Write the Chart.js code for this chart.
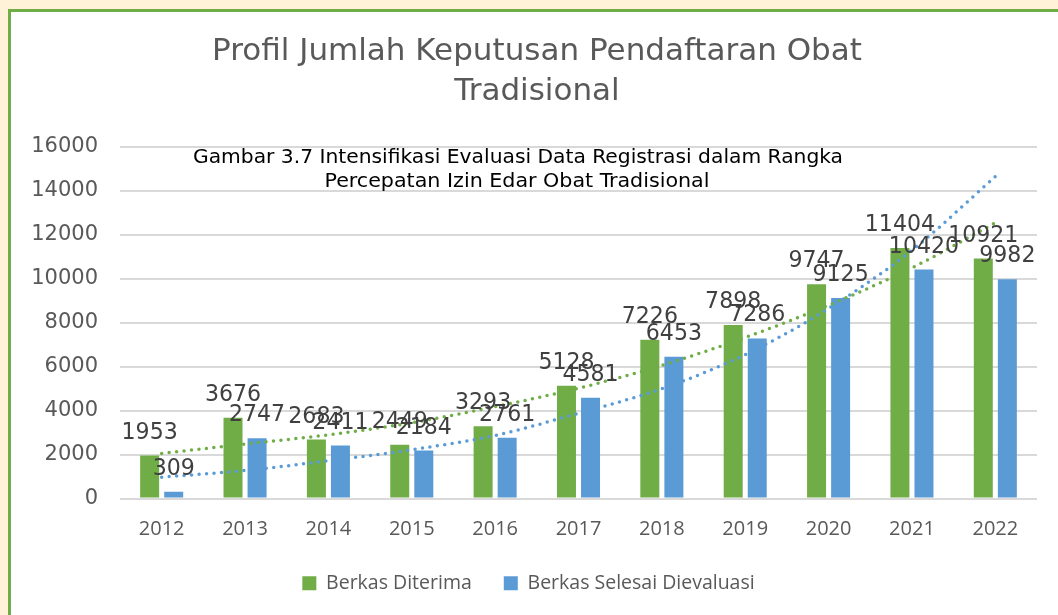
<!DOCTYPE html>
<html>
<head>
<meta charset="utf-8">
<script src="https://cdn.jsdelivr.net/npm/chart.js@4/dist/chart.umd.min.js"></script>
<style>
  html, body { margin: 0; padding: 0; width: 1058px; height: 615px; overflow: hidden; background: #FFF2D9; }
  #frame { position: absolute; left: 8px; top: 9px; right: 0; bottom: 0; background: #fff;
           border-left: 3px solid #70AD47; border-top: 3px solid #70AD47; }
  #wrap { position: absolute; left: 0; top: 0; width: 1058px; height: 615px; }
</style>
</head>
<body>
<div id="frame"></div>
<div id="wrap"><canvas id="c" width="1058" height="615"></canvas></div>
<script>
const years = ['2012','2013','2014','2015','2016','2017','2018','2019','2020','2021','2022'];
const diterima = [1953, 3676, 2683, 2449, 3293, 5128, 7226, 7898, 9747, 11404, 10921];
const selesai = [309, 2747, 2411, 2184, 2761, 4581, 6453, 7286, 9125, 10420, 9982];
const trendDiterima = [2050, 2480, 2900, 3450, 4180, 5020, 6060, 7330, 8800, 10500, 12550];
const trendSelesai = [970, 1276, 1720, 2220, 2870, 3880, 5000, 6550, 8650, 11300, 14650];
const yTicks = [0, 2000, 4000, 6000, 8000, 10000, 12000, 14000, 16000];
const titleLines = ['Profil Jumlah Keputusan Pendaftaran Obat', 'Tradisional'];
const captionLines = ['Gambar 3.7 Intensifikasi Evaluasi Data Registrasi dalam Rangka', 'Percepatan Izin Edar Obat Tradisional'];

const GREEN = '#70AD47', BLUE = '#5B9BD5';

const labelPlugin = {
  id: 'barLabels',
  afterDatasetsDraw(chart) {
    const ctx = chart.ctx;
    ctx.save();
    ctx.font = '23px "DejaVu Sans"';
    ctx.fillStyle = '#404040';
    ctx.textAlign = 'center';
    ctx.textBaseline = 'alphabetic';
    chart.data.datasets.forEach((ds, i) => {
      if (ds.type === 'line') return;
      const meta = chart.getDatasetMeta(i);
      meta.data.forEach((bar, j) => {
        ctx.save();
        ctx.translate(bar.x, bar.y - 17);
        ctx.scale(0.96, 1);
        ctx.fillText(String(ds.data[j]), 0, 0);
        ctx.restore();
      });
    });
    ctx.restore();
  }
};

const textPlugin = {
  id: 'titleCaption',
  afterDraw(chart) {
    const ctx = chart.ctx;
    ctx.save();
    // main title
    ctx.font = '31px "DejaVu Sans"';
    ctx.fillStyle = '#595959';
    ctx.textBaseline = 'middle';
    ctx.textAlign = 'center';
    ctx.fillText(titleLines[0], 537, 52);
    ctx.fillText(titleLines[1], 537, 92);
    // caption inside plot
    ctx.font = '20px "Liberation Sans Narrow", "DejaVu Sans Condensed", "Liberation Sans", sans-serif';
    ctx.fillStyle = '#000';
    const specs = [{cx: 518, cy: 158, w: 650}, {cx: 517, cy: 182, w: 385}];
    captionLines.forEach((t, i) => {
      const s = specs[i];
      const mw = ctx.measureText(t).width;
      const k = s.w / mw;
      ctx.save();
      ctx.translate(s.cx, s.cy);
      ctx.scale(k, 1);
      ctx.fillText(t, 0, 0);
      ctx.restore();
    });
    ctx.restore();
  }
};

new Chart(document.getElementById('c'), {
  type: 'bar',
  data: {
    labels: years,
    datasets: [
      { type: 'line', label: 'Trend Berkas Diterima', data: trendDiterima, borderColor: GREEN,
        borderWidth: 3.5, borderDash: [0, 7.5], borderCapStyle: 'round', pointRadius: 0,
        fill: false, cubicInterpolationMode: 'monotone' },
      { type: 'line', label: 'Trend Berkas Selesai Dievaluasi', data: trendSelesai, borderColor: BLUE,
        borderWidth: 3.5, borderDash: [0, 7.5], borderCapStyle: 'round', pointRadius: 0,
        fill: false, cubicInterpolationMode: 'monotone' },
      { label: 'Berkas Diterima', data: diterima, backgroundColor: GREEN,
        categoryPercentage: 0.577, barPercentage: 0.79 },
      { label: 'Berkas Selesai Dievaluasi', data: selesai, backgroundColor: BLUE,
        categoryPercentage: 0.577, barPercentage: 0.79 }
    ]
  },
  options: {
    responsive: false,
    animation: false,
    devicePixelRatio: 1,
    layout: { padding: { left: 20, right: 21, top: 147, bottom: 12 } },
    plugins: {
      tooltip: { enabled: false },
      title: { display: false },
      legend: {
        position: 'bottom',
        labels: {
          filter: (item) => !item.text.startsWith('Trend'),
          boxWidth: 14, boxHeight: 14,
          color: '#595959',
          font: { family: 'Open Sans', size: 19.5 },
          padding: 32
        }
      }
    },
    scales: {
      x: {
        afterFit: (axis) => { axis.height = 43; },
        grid: { display: false, drawTicks: false },
        border: { display: false },
        ticks: { color: '#595959', font: { family: 'Open Sans', size: 20 }, padding: 19, maxRotation: 0 }
      },
      y: {
        min: 0, max: 16000,
        afterBuildTicks: (axis) => { axis.ticks = yTicks.map(v => ({ value: v })); },
        afterFit: (axis) => { axis.width = 100; },
        grid: { color: '#D9D9D9', lineWidth: 2, drawTicks: false },
        border: { display: false },
        ticks: { color: '#595959', font: { family: 'DejaVu Sans', size: 21 }, padding: 22,
                 callback: (v) => String(v) }
      }
    }
  },
  plugins: [labelPlugin, textPlugin]
});
</script>
</body>
</html>
